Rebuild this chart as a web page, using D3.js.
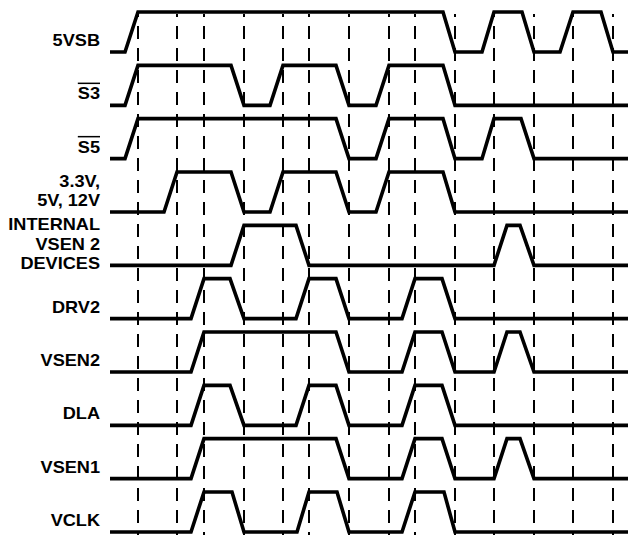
<!DOCTYPE html>
<html>
<head>
<meta charset="utf-8">
<script src="https://cdn.jsdelivr.net/npm/d3@7"></script>
<style>
  html, body { margin: 0; padding: 0; background: #fff; }
  svg { display: block; }
</style>
</head>
<body>
<svg id="chart" width="628" height="535"></svg>
<script>
// ---- data ----
const signalNames = ["5VSB", "S3", "S5", "3.3V,\n5V, 12V", "INTERNAL\nVSEN 2\nDEVICES",
                     "DRV2", "VSEN2", "DLA", "VSEN1", "VCLK"];
const overlined = ["S3", "S5"];
const markerTimes = [28, 67, 94, 134, 173, 199, 239, 279, 305, 345, 384, 424, 463, 503];
const timeDomain = [0, 518];

// each waveform: [time, level] pairs (0 = low, 1 = high)
const wave5VSB = [[0,0],[15,0],[28,1],[333,1],[345,0],[372,0],[384,1],[412,1],[424,0],[450,0],[463,1],[491,1],[503,0],[518,0]];
const waveS3 = [[0,0],[15,0],[28,1],[121,1],[134,0],[160,0],[173,1],[226,1],[239,0],[266,0],[279,1],[333,1],[345,0],[518,0]];
const waveS5 = [[0,0],[15,0],[28,1],[226,1],[239,0],[266,0],[279,1],[333,1],[345,0],[372,0],[384,1],[411,1],[424,0],[518,0]];
const waveRails = [[0,0],[54,0],[67,1],[121,1],[134,0],[160,0],[173,1],[226,1],[239,0],[266,0],[279,1],[333,1],[345,0],[518,0]];
const waveInternal = [[0,0],[121,0],[134,1],[186,1],[199,0],[384,0],[397,1],[410,1],[424,0],[518,0]];
const waveDRV2 = [[0,0],[81,0],[94,1],[120,1],[134,0],[186,0],[199,1],[226,1],[239,0],[292,0],[305,1],[332,1],[345,0],[518,0]];
const waveVSEN2 = [[0,0],[81,0],[94,1],[226,1],[239,0],[292,0],[305,1],[332,1],[345,0],[384,0],[397,1],[410,1],[424,0],[518,0]];
const waveDLA = [[0,0],[81,0],[94,1],[120,1],[134,0],[186,0],[199,1],[226,1],[239,0],[292,0],[305,1],[332,1],[345,0],[518,0]];
const waveVSEN1 = [[0,0],[81,0],[94,1],[226,1],[239,0],[292,0],[305,1],[332,1],[345,0],[384,0],[397,1],[410,1],[424,0],[518,0]];
const waveVCLK = [[0,0],[81,0],[94,1],[122,1],[134,0],[187,0],[199,1],[227,1],[239,0],[292,0],[305,1],[334,1],[345,0],[518,0]];
const waves = [wave5VSB, waveS3, waveS5, waveRails, waveInternal, waveDRV2, waveVSEN2, waveDLA, waveVSEN1, waveVCLK];

// ---- drawing ----
const svg = d3.select("#chart");
const x = d3.scaleLinear().domain(timeDomain).range([110, 628]);
const rowLow = d3.scalePoint().domain(signalNames).range([52, 532]);
const amplitude = 40;

// dashed markers
svg.append("g").selectAll("line").data(markerTimes).join("line")
  .attr("x1", d => x(d)).attr("x2", d => x(d))
  .attr("y1", 14).attr("y2", 535)
  .attr("stroke", "#000").attr("stroke-width", 2)
  .attr("stroke-dasharray", "13,9").attr("stroke-dashoffset", 10);

// waveforms
const line = d3.line();
svg.append("g").selectAll("path").data(signalNames).join("path")
  .attr("d", (name, i) => {
    const low = rowLow(name);
    const y = d3.scaleLinear().domain([0, 1]).range([low, low - amplitude]);
    return line(waves[i].map(p => [x(p[0]), y(p[1])]));
  })
  .attr("fill", "none").attr("stroke", "#000").attr("stroke-width", 3.6)
  .attr("stroke-linejoin", "miter").attr("stroke-linecap", "butt");

// labels
const labelX = 100, sx = 1.1, lineH = 19.5;
const lg = svg.append("g")
  .attr("font-family", "'Liberation Sans', Arial, Helvetica, sans-serif")
  .attr("font-weight", "bold").attr("font-size", 16.5).attr("fill", "#000");
signalNames.forEach(name => {
  const lines = name.split("\n");
  const low = rowLow(name);
  let firstBase;
  if (lines.length === 1) firstBase = low - 6;
  else {
    const center = low - amplitude / 2 - 1.5;
    firstBase = center - (lines.length - 1) * lineH / 2 + 6;
  }
  const g = lg.append("g").attr("transform", `translate(${labelX},0) scale(${sx},1)`);
  lines.forEach((t, k) => {
    const txt = g.append("text").attr("x", 0).attr("y", firstBase + k * lineH)
      .attr("text-anchor", "end").text(t);
    if (overlined.includes(name)) {
      const w = txt.node().getComputedTextLength();
      g.append("line").attr("x1", -w).attr("x2", 0)
        .attr("y1", firstBase - 16).attr("y2", firstBase - 16)
        .attr("stroke", "#000").attr("stroke-width", 1.5);
    }
  });
});
</script>
</body>
</html>
